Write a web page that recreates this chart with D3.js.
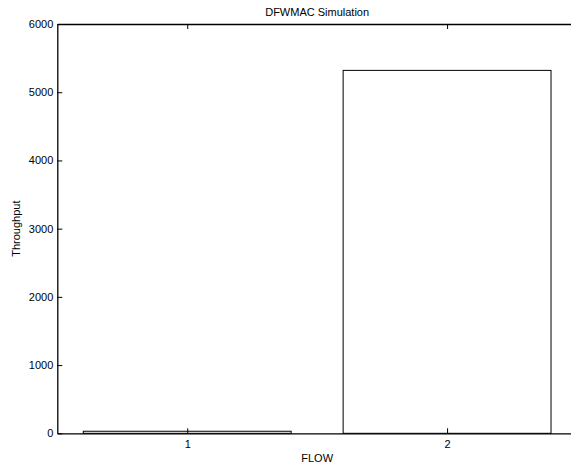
<!DOCTYPE html>
<html>
    <head>
        <title>DFWMAC Simulation</title>
        <style>
            body { margin: 0; background: #fff; overflow: hidden; }
            svg { display: block; }
            svg text { font-family: "Liberation Sans", Arial, Helvetica, sans-serif; font-size: 11px; fill: #000; }
            .axis path, .axis line { stroke: #000; }
        </style>
        <script src="https://cdnjs.cloudflare.com/ajax/libs/d3/7.8.5/d3.min.js"></script>
    </head>
    <body>
        <div id="chart"></div>
        <script>
            // data
            const flows = [1, 2];
            const throughput = [30, 5320];
            const yTicks = [0, 1000, 2000, 3000, 4000, 5000, 6000];
            const xTicks = [1, 2];

            const w = 571, h = 466;
            // the axes box runs past the right edge of the picture
            const plotLeft = 57.3, plotRight = 577, plotTop = 24, plotBottom = 433.3;

            const svg = d3.select("#chart").append("svg")
                .attr("width", w)
                .attr("height", h);

            const x = d3.scaleLinear().domain([0.5, 2.5]).range([plotLeft, plotRight]);
            const y = d3.scaleLinear().domain([0, 6000]).range([plotBottom, plotTop]);
            const barW = 0.8;

            // bars
            svg.selectAll("rect.bar")
                .data(flows)
                .enter()
                .append("rect")
                    .attr("class", "bar")
                    .attr("x", (d) => x(d - barW / 2))
                    .attr("width", (d) => x(d + barW / 2) - x(d - barW / 2))
                    .attr("y", (d, i) => y(throughput[i]))
                    .attr("height", (d, i) => y(0) - y(throughput[i]))
                    .attr("fill", "#fff")
                    .attr("stroke", "#000")
                    .attr("stroke-width", 1);

            // axes, matlab style ticks pointing inward
            svg.append("g").attr("class", "axis")
                .attr("transform", `translate(0,${plotBottom})`)
                .call(d3.axisBottom(x).tickValues(xTicks).tickFormat(d3.format("d")).tickSizeInner(-5).tickSizeOuter(0).tickPadding(7))
                .call(g => g.select(".domain").attr("stroke-width", 1.3));

            svg.append("g").attr("class", "axis")
                .attr("transform", `translate(0,${plotTop})`)
                .call(d3.axisTop(x).tickValues(xTicks).tickFormat("").tickSizeInner(-5).tickSizeOuter(0))
                .call(g => g.select(".domain").attr("stroke-width", 1.3));

            svg.append("g").attr("class", "axis")
                .attr("transform", `translate(${plotLeft},0)`)
                .call(d3.axisLeft(y).tickValues(yTicks).tickFormat(d3.format("d")).tickSizeInner(-5).tickSizeOuter(0).tickPadding(4))
                .call(g => g.select(".domain").attr("stroke-width", 1.3));

            svg.selectAll(".axis").attr("font-size", null).attr("font-family", null);

            // labels
            svg.append("text")
                .attr("x", (plotLeft + plotRight) / 2)
                .attr("y", 16)
                .attr("text-anchor", "middle")
                .text("DFWMAC Simulation");

            svg.append("text")
                .attr("x", (plotLeft + plotRight) / 2)
                .attr("y", 462)
                .attr("text-anchor", "middle")
                .text("FLOW");

            svg.append("text")
                .attr("transform", `translate(19.5,${(plotTop + plotBottom) / 2}) rotate(-90)`)
                .attr("text-anchor", "middle")
                .text("Throughput");
        </script>
    </body>
</html>
